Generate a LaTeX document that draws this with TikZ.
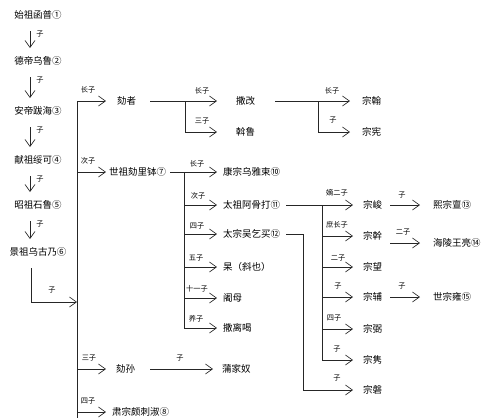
\documentclass[tikz,border=0pt]{standalone}
\usepackage{fontspec}
\newfontfamily\cjk{Noto Sans CJK SC}
\usetikzlibrary{arrows.meta,calc}
\begin{document}
\begin{tikzpicture}[x=1pt,y=-1pt,
  ln/.style={line width=0.65pt,draw=black!85},
  arr/.style={ln,-{Straight Barb[length=7pt,width=10pt,line width=0.65pt]}},
  nm/.style={font=\cjk\fontsize{9.5}{10}\selectfont,inner sep=0pt,anchor=west,text=black},
  nmc/.style={font=\cjk\fontsize{9.5}{10}\selectfont,inner sep=0pt,text=black},
  lb/.style={font=\cjk\fontsize{7.2}{8}\selectfont,inner sep=0pt,text=black}]
\useasboundingbox (0,0) rectangle (499,418);
% left column
\node[nmc] (n1) at (38,15) {始祖函普①};
\node[nmc] (n2) at (38,61) {德帝乌鲁②};
\node[nmc] (n3) at (38,111) {安帝跋海③};
\node[nmc] (n4) at (38,160) {献祖绥可④};
\node[nmc] (n5) at (38,205) {昭祖石鲁⑤};
\node[nmc] (n6) at (38,252) {景祖乌古乃⑥};
\foreach \a/\b/\k in {n1/n2/1,n2/n3/2,n3/n4/3,n4/n5/4,n5/n6/5}{
  \draw[arr] ($(\a.center)+(-8,16)$) coordinate (d\k) -- ($(\b.center)+(-8,-13)$);
  \node[lb] (ld\k) at ($(d\k)+(10,3)$) {子};
}
% trunk
\coordinate (tA) at (77,101);
\coordinate (tB) at (77,418);
\coordinate (tJ) at (77,302);
\draw[ln] (tA) -- (tB);
\draw[arr] ($(n6.center)+(-7,16)$) |- (tJ);
\node[lb] (l0) at (52,290) {子};
% sons of 景祖
\node[nm] (hezhe) at (117,101) {劾者};
\node[nm] (shizu) at (109,172) {世祖劾里钵⑦};
\node[nm] (hesun) at (116,369) {劾孙};
\node[nm] (suzong) at (112,412) {肃宗颇刺淑⑧};
\draw[arr] (tA) -- ([xshift=-11pt]hezhe.west);
\draw[arr] (tA |- shizu.west) -- ([xshift=-3pt]shizu.west);
\draw[arr] (tA |- hesun.west) -- ([xshift=-10pt]hesun.west);
\draw[arr] (tA |- suzong.west) -- ([xshift=-6pt]suzong.west);
\node[lb] (l1) at (88,90) {长子};
\node[lb] (l2) at (88,161) {次子};
\node[lb] (l3) at (89,358) {三子};
\node[lb] (l4) at (88,401) {四子};
% 劾者 branch
\node[nm] (sagai) at (236,101) {撒改};
\node[nm] (walu) at (236,132) {斡鲁};
\coordinate (hzJ) at (185,101);
\draw[arr] ([xshift=14pt]hezhe.east) -- ([xshift=-19pt]sagai.west);
\draw[arr] (hzJ) |- ([xshift=-19pt]walu.west);
\node[lb] (l5) at (202,91) {长子};
\node[lb] (l6) at (202,121) {三子};
% 撒改 branch
\node[nm] (zonghan) at (362,101) {宗翰};
\node[nm] (zongxian) at (362,132) {宗宪};
\coordinate (sgJ) at (318,101);
\draw[arr] ([xshift=20pt]sagai.east) -- ([xshift=-12pt]zonghan.west);
\draw[arr] (sgJ) |- ([xshift=-12pt]zongxian.west);
\node[lb] (l7) at (332,91) {长子};
\node[lb] (l8) at (333,120) {子};
% 世祖 branch
\node[nm] (kang) at (223,172) {康宗乌雅束⑩};
\node[nm] (taizu) at (223,205) {太祖阿骨打⑪};
\node[nm] (taizong) at (223,234) {太宗吴乞买⑫};
\node[nm] (gao) at (223,267) {杲（斜也）};
\node[nm] (shemu) at (223,298) {阇母};
\node[nm] (salihe) at (223,328) {撒离喝};
\coordinate (szJ) at (184,172);
\coordinate (szE) at (184,328);
\draw[ln] (szJ) -- (szE);
\draw[arr] ([xshift=4pt]shizu.east) -- ([xshift=-6pt]kang.west);
\foreach \n in {taizu,taizong,gao,shemu,salihe}{
  \draw[arr] (szJ |- \n.west) -- ([xshift=-6pt]\n.west);
}
\node[lb] (l9) at (197,164) {长子};
\node[lb] (l10) at (198,196) {次子};
\node[lb] (l11) at (197,226) {四子};
\node[lb] (l12) at (196,258) {五子};
\node[lb] (l13) at (197,289) {十一子};
\node[lb] (l14) at (196,319) {养子};
% 太祖 branch
\node[nm] (zjun) at (363,205) {宗峻};
\node[nm] (zgan) at (363,236) {宗幹};
\node[nm] (zwang) at (363,267) {宗望};
\node[nm] (zfu) at (363,297) {宗辅};
\node[nm] (zbi) at (363,329) {宗弼};
\node[nm] (zjuan) at (363,360) {宗隽};
\node[nm] (zpan) at (363,390) {宗磐};
\coordinate (tzJ) at (322,205);
\coordinate (tzE) at (322,360);
\draw[ln] ([xshift=6pt]taizu.east) -- (tzJ) -- (tzE);
\foreach \n in {zjun,zgan,zwang,zfu,zbi,zjuan}{
  \draw[arr] (tzJ |- \n.west) -- ([xshift=-10pt]\n.west);
}
\node[lb] (l15) at (337,193) {嫡二子};
\node[lb] (l16) at (337,225) {庶长子};
\node[lb] (l17) at (338,258) {二子};
\node[lb] (l18) at (338,286) {子};
\node[lb] (l19) at (334,318) {四子};
\node[lb] (l20) at (337,349) {子};
% 太宗 branch
\coordinate (tgJ) at (303,234);
\draw[arr] ([xshift=6pt]taizong.east) -- (tgJ) |- ([xshift=-10pt]zpan.west);
\node[lb] (l21) at (337,378) {子};
% grandsons
\node[nm] (xi) at (433,205) {熙宗亶⑬};
\node[nm] (hai) at (433,243) {海陵王亮⑭};
\node[nm] (shi) at (433,297) {世宗雍⑮};
\draw[arr] ([xshift=8pt]zjun.east) -- ([xshift=-13pt]xi.west);
\draw[arr] ([xshift=8pt]zgan.east |- hai.west) -- ([xshift=-13pt]hai.west);
\draw[arr] ([xshift=8pt]zfu.east) -- ([xshift=-13pt]shi.west);
\node[lb] (l22) at (402,195) {子};
\node[lb] (l23) at (403,232) {二子};
\node[lb] (l24) at (402,286) {子};
% 劾孙 branch
\node[nm] (pujia) at (222,369) {蒲家奴};
\draw[arr] ([xshift=15pt]hesun.east) -- ([xshift=-9pt]pujia.west);
\node[lb] (l25) at (180,358) {子};
\end{tikzpicture}
\end{document}
